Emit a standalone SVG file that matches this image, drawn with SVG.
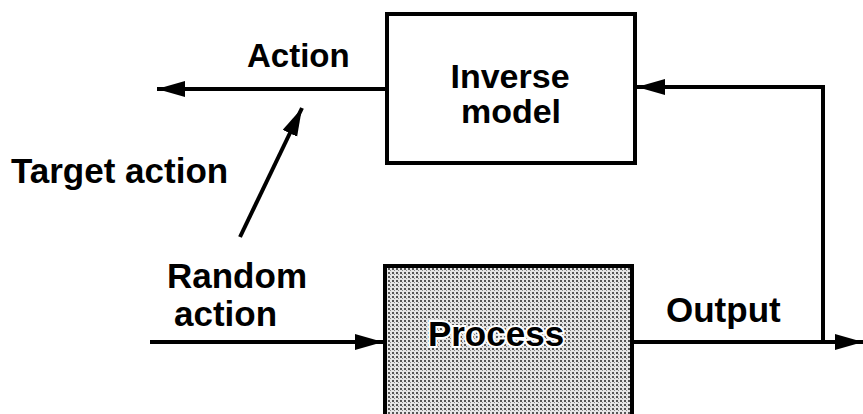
<svg xmlns="http://www.w3.org/2000/svg" width="863" height="414" viewBox="0 0 863 414">
  <style>
    .lbl { font-family: "Liberation Sans", Arial, sans-serif; font-weight: bold; font-size: 35px; fill: #000; }
    .box { fill: #fff; stroke: #000; stroke-width: 4; }
    .wire { fill: none; stroke: #000; stroke-width: 4; }
  </style>
  <defs>
    <marker id="head" markerUnits="userSpaceOnUse" markerWidth="30" markerHeight="18" refX="28" refY="8" orient="auto">
      <path d="M0,0 L28,8 L0,16 Z" fill="#000"/>
    </marker>
    <!-- halftone dot screen for the shaded block -->
    <pattern id="dots" width="4" height="4" patternUnits="userSpaceOnUse">
      <rect width="4" height="4" fill="#e6e6e6"/>
      <rect x="0" y="0" width="2" height="2" fill="#555"/>
      <rect x="2" y="2" width="1" height="1" fill="#888"/>
    </pattern>
  </defs>

  <g id="connectors">
    <line class="wire" x1="387" y1="89" x2="157" y2="89" marker-end="url(#head)"/>
    <path class="wire" d="M632,342 H823 V87 H637" marker-end="url(#head)"/>
    <line class="wire" x1="823" y1="342" x2="863" y2="342" marker-end="url(#head)"/>
    <line class="wire" x1="150" y1="342" x2="383" y2="342" marker-end="url(#head)"/>
    <line class="wire" x1="240" y1="237" x2="302" y2="108" marker-end="url(#head)"/>
  </g>

  <g id="inverse-model">
    <rect class="box" x="387" y="14" width="248" height="149"/>
    <text class="lbl" x="510" y="88" text-anchor="middle" style="font-size:34px">Inverse</text>
    <text class="lbl" x="511" y="123" text-anchor="middle" style="font-size:34px">model</text>
  </g>

  <g id="process">
    <rect class="box" x="385" y="266" width="247" height="160" style="fill:url(#dots)"/>
    <text class="lbl" x="496" y="346" text-anchor="middle" stroke="#fff" stroke-width="4" paint-order="stroke">Process</text>
  </g>

  <g id="labels">
    <text class="lbl" x="247" y="67" style="font-size:33px">Action</text>
    <text class="lbl" x="11" y="183">Target action</text>
    <text class="lbl" x="167" y="288">Random</text>
    <text class="lbl" x="174" y="326">action</text>
    <text class="lbl" x="666" y="322">Output</text>
  </g>
</svg>
